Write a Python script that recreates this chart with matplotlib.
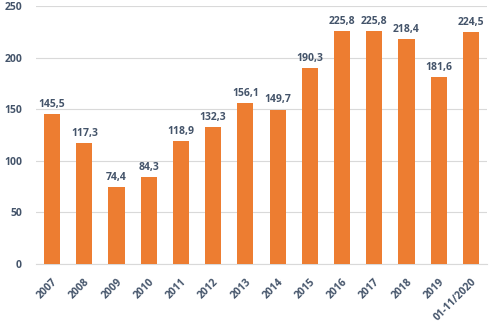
import matplotlib
matplotlib.use("Agg")
import matplotlib.pyplot as plt

years = ["2007", "2008", "2009", "2010", "2011", "2012", "2013", "2014",
         "2015", "2016", "2017", "2018", "2019", "01-11/2020"]
values = [145.5, 117.3, 74.4, 84.3, 118.9, 132.3, 156.1, 149.7,
          190.3, 225.8, 225.8, 218.4, 181.6, 224.5]

txt = "#44546A"
plt.rcParams["font.family"] = ["Open Sans", "DejaVu Sans"]

fig = plt.figure(figsize=(5, 3.23), dpi=100)
ax = fig.add_axes([0.072, 0.183, 0.902, 0.798])
x = range(len(years))
ax.bar(x, values, width=0.5, color="#ED7D31", zorder=3)
for i, v in zip(x, values):
    ax.text(i, v + 4, f"{v:.1f}".replace(".", ","), ha="center", va="bottom",
            fontsize=7.5, fontweight="bold", color=txt)

ax.set_xlim(-0.5, len(years) - 0.5)
ax.set_ylim(0, 250)
ax.set_yticks(range(0, 251, 50))
ax.yaxis.grid(True, color="#D9D9D9", lw=0.8, zorder=0)
ax.set_xticks(list(x))
ax.set_xticklabels(years, rotation=45, ha="right", rotation_mode="anchor",
                   fontsize=7.5, fontweight="bold", color=txt)
for lab in ax.get_yticklabels():
    lab.set_fontsize(7.5)
    lab.set_fontweight("bold")
    lab.set_color(txt)
for s in ["top", "right", "left"]:
    ax.spines[s].set_visible(False)
ax.spines["bottom"].set_color("#D9D9D9")
ax.tick_params(length=0)
ax.tick_params(axis="x", pad=9)
ax.tick_params(axis="y", pad=10)

fig.savefig("out.png", dpi=100)
